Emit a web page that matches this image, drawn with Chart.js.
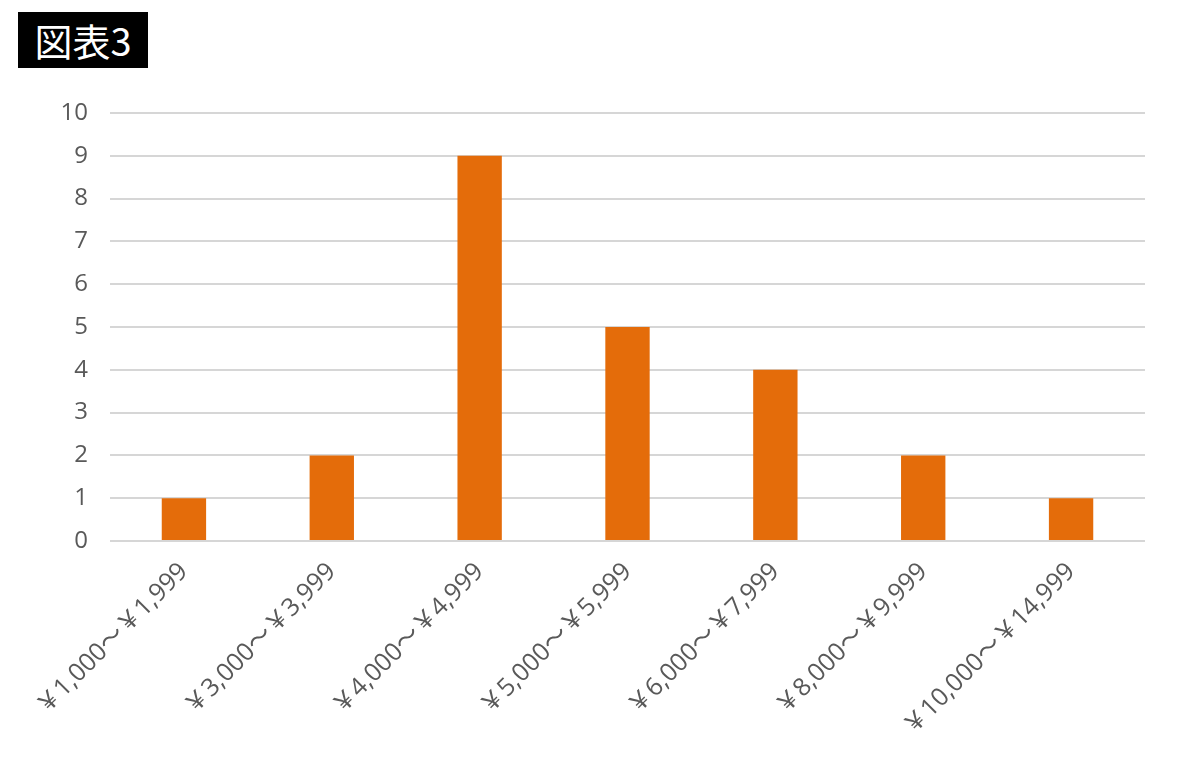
<!DOCTYPE html>
<html>
<head>
<meta charset="utf-8">
<script src="https://cdn.jsdelivr.net/npm/chart.js@4/dist/chart.umd.min.js"></script>
<style>
  html, body { margin: 0; padding: 0; background: #fff; }
  #wrap { position: relative; width: 1200px; height: 770px; }
  #badge {
    position: absolute; left: 18px; top: 12px; width: 130px; height: 56px;
    background: #000; color: #fff; font-family: "Noto Sans CJK JP", sans-serif;
    font-weight: normal; font-size: 38px; line-height: 56px; text-align: center;
    z-index: 2;
  }
  canvas { position: absolute; left: 0; top: 0; }
</style>
</head>
<body>
<div id="wrap">
  <div id="badge">図表3</div>
  <canvas id="chart" width="1200" height="770"></canvas>
</div>
<script>
// 価格帯ごとの件数
var priceRanges = ["￥1,000～￥1,999", "￥3,000～￥3,999", "￥4,000～￥4,999", "￥5,000～￥5,999",
                   "￥6,000～￥7,999", "￥8,000～￥9,999", "￥10,000～￥14,999"];
var counts = [1, 2, 9, 5, 4, 2, 1];
var yTicks = [0, 1, 2, 3, 4, 5, 6, 7, 8, 9, 10];

var font = "'Open Sans', 'Noto Sans CJK JP', sans-serif";

new Chart(document.getElementById("chart"), {
    type: 'bar',
    data: {
        labels: priceRanges,
        datasets: [{
            data: counts,
            backgroundColor: "#E46C0A",
            categoryPercentage: 1.0,
            barPercentage: 0.3
        }]
    },
    options: {
        responsive: false,
        animation: false,
        layout: { padding: { top: 113, right: 55, left: 0, bottom: 0 } },
        plugins: { legend: { display: false }, tooltip: { enabled: false } },
        scales: {
            x: {
                grid: { display: false },
                border: { display: false },
                ticks: {
                    color: "#595959",
                    font: { family: font, size: 25 },
                    minRotation: 45,
                    maxRotation: 45,
                    padding: 8
                },
                afterFit: function(scale){ scale.height = 229; }
            },
            y: {
                min: 0,
                max: 10,
                afterBuildTicks: function(scale){
                    scale.ticks = yTicks.map(function(v){ return { value: v }; });
                },
                grid: { color: "#d6d6d6", lineWidth: 2, drawTicks: false },
                border: { display: false },
                ticks: {
                    color: "#595959",
                    font: { family: font, size: 24 },
                    padding: 22
                },
                afterFit: function(scale){ scale.width = 110; }
            }
        }
    }
});
</script>
</body>
</html>
